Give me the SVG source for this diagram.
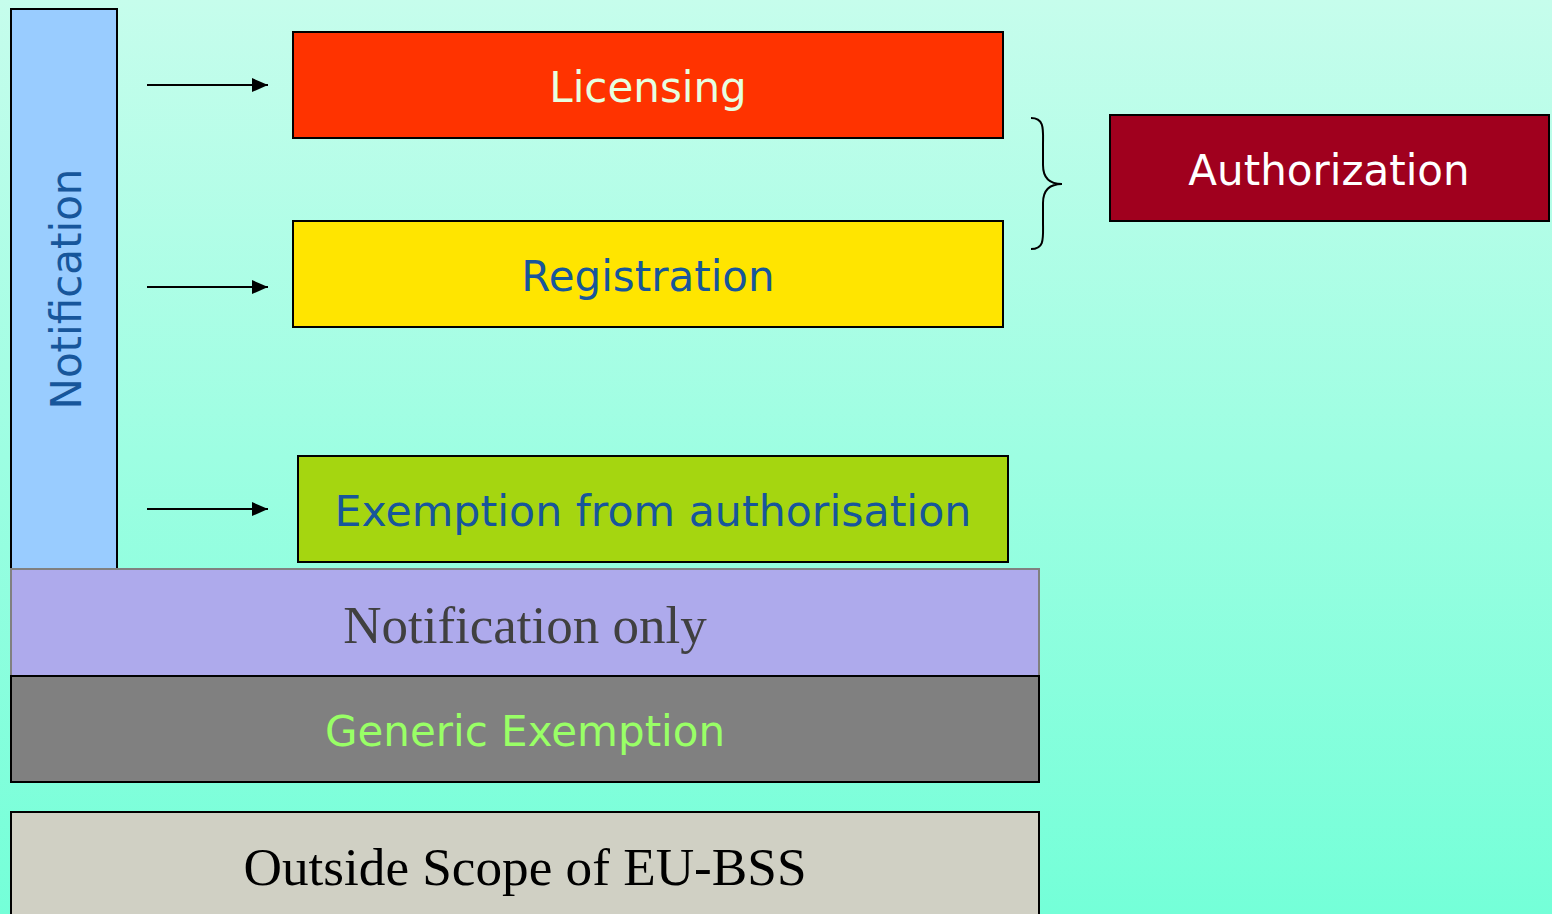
<svg xmlns="http://www.w3.org/2000/svg" width="1552" height="914" viewBox="0 0 1552 914">
<defs>
<linearGradient id="bg" x1="0" y1="0" x2="0" y2="1">
<stop offset="0" stop-color="#c6fdec"/>
<stop offset="1" stop-color="#74ffd8"/>
</linearGradient>
<marker id="ah" markerWidth="16" markerHeight="14" refX="16" refY="7" orient="auto" markerUnits="userSpaceOnUse">
<path d="M0,0 L16,7 L0,14 Z" fill="#000"/>
</marker>
<style>
.box{stroke:#000;stroke-width:2}
.sans{font-family:"DejaVu Sans","Verdana",sans-serif;text-anchor:middle;font-size:42px}
.serif{font-family:"Liberation Serif","Times New Roman",serif;text-anchor:middle}
.blue{fill:#17569b}
.conn{stroke:#000;stroke-width:2;fill:none}
</style>
</defs>
<rect width="1552" height="914" fill="url(#bg)"/>
<g id="notification">
<rect class="box" x="11" y="9" width="106" height="560" fill="#99ccff"/>
<text class="sans blue" transform="translate(81,289) rotate(-90)">Notification</text>
</g>
<g id="licensing">
<rect class="box" x="293" y="32" width="710" height="106" fill="#ff3300"/>
<text class="sans" x="648" y="102" fill="#e6ffe0">Licensing</text>
</g>
<g id="registration">
<rect class="box" x="293" y="221" width="710" height="106" fill="#ffe500"/>
<text class="sans blue" x="648" y="291">Registration</text>
</g>
<g id="exemption">
<rect class="box" x="298" y="456" width="710" height="106" fill="#a5d610"/>
<text class="sans blue" x="653" y="526" style="font-size:42.7px">Exemption from authorisation</text>
</g>
<g id="notification-only">
<rect x="11" y="569" width="1028" height="107" fill="#aeaaec" stroke="#808080" stroke-width="2"/>
<text class="serif" font-size="53" x="525" y="643" fill="#404040">Notification only</text>
</g>
<g id="generic-exemption">
<rect class="box" x="11" y="676" width="1028" height="106" fill="#808080"/>
<text class="sans" x="525" y="746" fill="#99ff66">Generic Exemption</text>
</g>
<g id="outside-scope">
<rect class="box" x="11" y="812" width="1028" height="110" fill="#d0d0c4"/>
<text class="serif" font-size="52" x="525" y="885" fill="#000" textLength="563" lengthAdjust="spacingAndGlyphs">Outside Scope of EU-BSS</text>
</g>
<g id="authorization">
<rect class="box" x="1110" y="115" width="439" height="106" fill="#a0001e"/>
<text class="sans" x="1329" y="185" fill="#ffffff">Authorization</text>
</g>
<g id="connectors">
<line class="conn" x1="147" y1="85" x2="268" y2="85" marker-end="url(#ah)"/>
<line class="conn" x1="147" y1="287" x2="268" y2="287" marker-end="url(#ah)"/>
<line class="conn" x1="147" y1="509" x2="268" y2="509" marker-end="url(#ah)"/>
<path class="conn" d="M1031,118 C1045,118 1043,130 1043,145 L1043,165 C1043,178 1050,184 1062,184 C1050,184 1043,190 1043,203 L1043,222 C1043,238 1045,249 1031,249"/>
</g>
</svg>
